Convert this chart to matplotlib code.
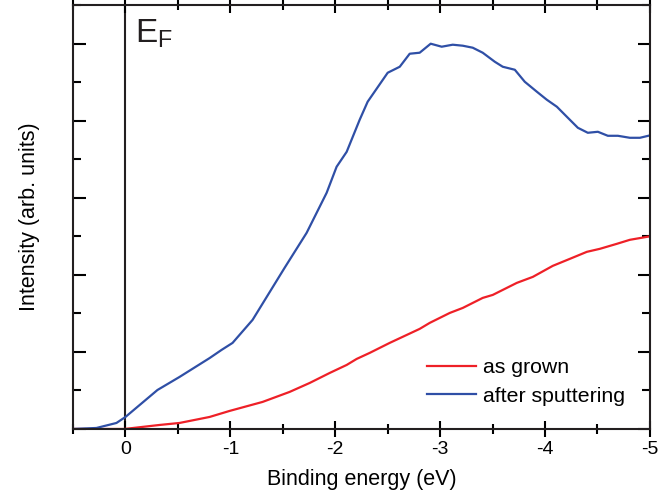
import matplotlib
matplotlib.use("Agg")
import matplotlib.pyplot as plt
from matplotlib.ticker import MultipleLocator, NullFormatter

plt.rcParams['font.family'] = ['Liberation Sans', 'DejaVu Sans']
plt.rcParams['axes.unicode_minus'] = False

# Datos
energia_crecido = [0.5, 0.01, -0.324, -0.515, -0.802, -0.992, -1.307, -1.565, -1.756, -1.947,
                   -2.109, -2.204, -2.328, -2.519, -2.805, -2.901, -3.092, -3.216, -3.406,
                   -3.502, -3.731, -3.884, -4.074, -4.237, -4.399, -4.523, -4.685, -4.809, -5.0]
intensidad_crecido = [0.0, 0.0, 0.052, 0.078, 0.156, 0.234, 0.351, 0.481, 0.597, 0.727,
                      0.831, 0.909, 0.987, 1.117, 1.299, 1.377, 1.506, 1.571, 1.701,
                      1.740, 1.896, 1.974, 2.117, 2.208, 2.299, 2.338, 2.403, 2.455, 2.50]

energia_sputter = [0.5, 0.277, 0.086, 0.0, -0.305, -0.515, -0.802, -0.916, -1.021, -1.212,
                   -1.517, -1.727, -1.918, -2.013, -2.109, -2.233, -2.309, -2.5, -2.615,
                   -2.71, -2.805, -2.91, -3.015, -3.12, -3.216, -3.311, -3.406, -3.521,
                   -3.597, -3.712, -3.807, -3.922, -4.017, -4.113, -4.208, -4.313, -4.408,
                   -4.504, -4.599, -4.695, -4.809, -4.905, -5.0]
intensidad_sputter = [0.0, 0.013, 0.078, 0.156, 0.506, 0.675, 0.92, 1.026, 1.117, 1.416,
                      2.091, 2.545, 3.065, 3.403, 3.597, 4.013, 4.247, 4.623, 4.701,
                      4.87, 4.883, 5.0, 4.961, 4.987, 4.974, 4.948, 4.883, 4.766,
                      4.701, 4.662, 4.506, 4.377, 4.273, 4.182, 4.052, 3.909, 3.844,
                      3.857, 3.805, 3.805, 3.779, 3.779, 3.81]

fig = plt.figure(figsize=(6.7, 4.98), dpi=100)
ax = fig.add_axes([0.109, 0.1386, 0.861, 0.851])

ax.plot(energia_crecido, intensidad_crecido, color='#ee2027', lw=1.6, label='as grown')
ax.plot(energia_sputter, intensidad_sputter, color='#2f4fa6', lw=1.6, label='after sputtering')
ax.axvline(0, color='#231f20', lw=1.5, zorder=1)

ax.set_xlim(0.5, -5)
ax.set_ylim(0, 5.5)
ax.xaxis.set_major_locator(MultipleLocator(1))
ax.xaxis.set_minor_locator(MultipleLocator(0.5))
ax.yaxis.set_major_locator(MultipleLocator(1))
ax.yaxis.set_minor_locator(MultipleLocator(0.5))
ax.yaxis.set_major_formatter(NullFormatter())

ax.tick_params(axis='x', which='major', direction='inout', length=11, width=1.5,
               labelsize=14, pad=3, top=True)
ax.tick_params(axis='x', which='minor', direction='inout', length=7, width=1.5, top=True)
ax.tick_params(axis='y', which='major', direction='in', length=9, width=1.5, right=True)
ax.tick_params(axis='y', which='minor', direction='in', length=6, width=1.5, right=True)
for lado in ax.spines.values():
    lado.set_linewidth(1.5)
    lado.set_color('#231f20')

ax.set_xlabel('Binding energy (eV)', fontsize=15.5, labelpad=8)
ax.set_ylabel('Intensity (arb. units)', fontsize=15.5, labelpad=20)

ax.text(-0.09, 5.13, r'E$_\mathregular{F}$', fontsize=24, va='center', ha='left', color='#231f20')

ax.legend(loc='lower right', frameon=False, fontsize=15.3, handlelength=2.3,
          handletextpad=0.35, labelspacing=0.45, bbox_to_anchor=(0.99, 0.01))

fig.savefig('out.png', dpi=100)
